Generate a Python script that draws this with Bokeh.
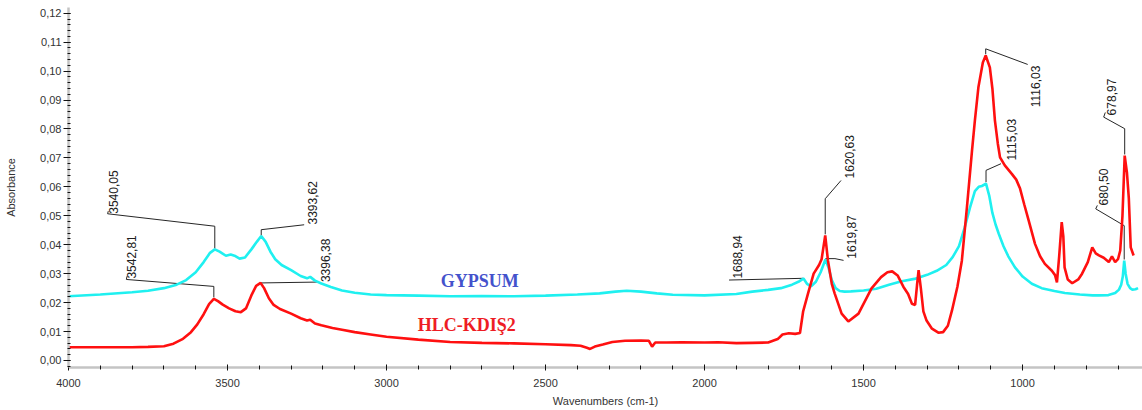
from math import pi
from bokeh.plotting import figure
from bokeh.models import Range1d, FixedTicker, CustomJSTickFormatter
from bokeh.core.properties import value
from bokeh.embed import file_html
from bokeh.resources import INLINE

# ---------------- data ----------------
gypsum_wn = [4000, 3900, 3800, 3750, 3700, 3660, 3630, 3600, 3575, 3555, 3540, 3525, 3505, 3490,
             3478, 3462, 3445, 3425, 3408, 3394, 3380, 3365, 3350, 3330, 3300, 3270, 3250, 3240,
             3225, 3205, 3175, 3140, 3100, 3050, 3000, 2900, 2800, 2700, 2600, 2500, 2400, 2330,
             2280, 2245, 2200, 2150, 2100, 2000, 1900, 1850, 1800, 1760, 1725, 1705, 1689, 1678,
             1665, 1650, 1635, 1620, 1610, 1600, 1588, 1575, 1560, 1540, 1500, 1460, 1420, 1380,
             1340, 1300, 1270, 1240, 1220, 1200, 1182, 1165, 1150, 1138, 1128, 1115, 1105, 1095,
             1085, 1075, 1060, 1045, 1024, 1000, 971, 940, 900, 867, 820, 780, 760, 730, 709, 697,
             690, 685, 680.5, 676, 670, 662, 655, 645, 637]
gypsum_abs = [0.0222, 0.0228, 0.0236, 0.0241, 0.0250, 0.0262, 0.0278, 0.0305, 0.0340, 0.0372,
              0.0384, 0.0376, 0.0362, 0.0366, 0.0362, 0.0352, 0.0356, 0.0384, 0.0410, 0.0430,
              0.0410, 0.0376, 0.0350, 0.0330, 0.0312, 0.0292, 0.0284, 0.0289, 0.0276, 0.0266,
              0.0254, 0.0242, 0.0234, 0.0228, 0.0226, 0.0224, 0.0222, 0.0223, 0.0222, 0.0224,
              0.0228, 0.0232, 0.0238, 0.0241, 0.0238, 0.0232, 0.0227, 0.0225, 0.0230, 0.0238,
              0.0244, 0.0250, 0.0262, 0.0272, 0.0283, 0.0265, 0.0256, 0.0272, 0.0305, 0.0349,
              0.0320, 0.0278, 0.0250, 0.0240, 0.0238, 0.0239, 0.0242, 0.0248, 0.0262, 0.0274,
              0.0282, 0.0296, 0.0310, 0.0330, 0.0357, 0.0395, 0.0460, 0.0530, 0.0585, 0.0600,
              0.0603, 0.0611, 0.0570, 0.0510, 0.0470, 0.0438, 0.0395, 0.0360, 0.0322, 0.0290,
              0.0265, 0.0250, 0.0240, 0.0233, 0.0228, 0.0225, 0.0225, 0.0226, 0.0233, 0.0245,
              0.0262, 0.0290, 0.0345, 0.0300, 0.0265, 0.0250, 0.0245, 0.0246, 0.0250]

hlc_wn = [4000, 3900, 3800, 3750, 3700, 3670, 3640, 3615, 3595, 3575, 3558, 3543, 3530, 3515,
          3495, 3475, 3458, 3442, 3425, 3410, 3396, 3385, 3370, 3355, 3335, 3300, 3270, 3250,
          3240, 3225, 3205, 3170, 3140, 3100, 3050, 3000, 2900, 2800, 2700, 2600, 2500, 2420,
          2390, 2370, 2360, 2345, 2320, 2290, 2250, 2200, 2175, 2165, 2155, 2120, 2072, 2000,
          1957, 1900, 1850, 1800, 1770, 1755, 1735, 1715, 1700, 1690, 1675, 1657, 1640, 1632,
          1620.6, 1612, 1600, 1591, 1569, 1548, 1516, 1475, 1445, 1425, 1410, 1393, 1375, 1360,
          1348, 1338, 1332, 1327, 1320, 1312, 1302, 1285, 1265, 1250, 1235, 1222, 1205, 1191,
          1175, 1159, 1150, 1139, 1125, 1116, 1103, 1095, 1087, 1078, 1071, 1056, 1034, 1020,
          1008, 995, 981, 961, 945, 930, 908, 898, 892, 885, 877, 872, 868, 858, 844, 825, 813,
          795, 781, 770, 760, 745, 729, 719, 709, 700, 693, 686, 679, 672, 666, 660, 651]
hlc_abs = [0.0046, 0.0046, 0.0046, 0.0047, 0.0049, 0.0058, 0.0075, 0.0098, 0.0125, 0.0160,
           0.0195, 0.0213, 0.0205, 0.0193, 0.0180, 0.0170, 0.0167, 0.0180, 0.0225, 0.0258,
           0.0268, 0.0250, 0.0215, 0.0192, 0.0178, 0.0162, 0.0146, 0.0138, 0.0141, 0.0128,
           0.0122, 0.0112, 0.0106, 0.0098, 0.0090, 0.0082, 0.0072, 0.0064, 0.0061, 0.0059,
           0.0056, 0.0053, 0.0051, 0.0044, 0.0040, 0.0048, 0.0055, 0.0064, 0.0068, 0.0069,
           0.0068, 0.0048, 0.0062, 0.0062, 0.0063, 0.0062, 0.0063, 0.0060, 0.0061, 0.0062,
           0.0074, 0.0090, 0.0094, 0.0092, 0.0095, 0.0170, 0.0230, 0.0300, 0.0330, 0.0350,
           0.0432, 0.0345, 0.0265, 0.0232, 0.0162, 0.0135, 0.0162, 0.0249, 0.0288, 0.0305,
           0.0308, 0.0294, 0.0255, 0.0230, 0.0196, 0.0192, 0.0260, 0.0312, 0.0250, 0.0170,
           0.0138, 0.0110, 0.0096, 0.0098, 0.0120, 0.0173, 0.0255, 0.0345, 0.0530, 0.0726,
           0.0830, 0.0944, 0.1030, 0.1054, 0.1013, 0.0940, 0.0829, 0.0750, 0.0702, 0.0674,
           0.0645, 0.0625, 0.0594, 0.0540, 0.0484, 0.0403, 0.0360, 0.0334, 0.0310, 0.0295,
           0.0270, 0.0360, 0.0478, 0.0430, 0.0322, 0.0280, 0.0267, 0.0280, 0.0300, 0.0340,
           0.0391, 0.0370, 0.0363, 0.0355, 0.0340, 0.0360, 0.0340, 0.0350, 0.0380, 0.0500,
           0.0708, 0.0650, 0.0560, 0.0391, 0.0363]

series_names = ["GYPSUM", "HLC-KDIŞ2"]
series_label_x = [2707, 2748]
series_label_y = [0.0273, 0.0121]

x_ticks = [4000, 3500, 3000, 2500, 2000, 1500, 1000]
x_minor_ticks = list(range(4000, 600, -100))
y_ticks = [0.00, 0.01, 0.02, 0.03, 0.04, 0.05, 0.06, 0.07, 0.08, 0.09, 0.10, 0.11, 0.12]
y_minor_ticks = [round(-0.002 + 0.002 * i, 3) for i in range(63)]

# peak annotations: leader polylines and rotated labels
peak_labels = ["3540,05", "3393,62", "3542,81", "3396,38", "1688,94", "1620,63",
               "1619,87", "1115,03", "680,50", "678,97"]
peak_label_x = [3857, 3232, 3801, 3191, 1898, 1545, 1537, 1034, 747, 719]
peak_label_y = [0.0507, 0.0470, 0.0283, 0.0271, 0.0283, 0.0629, 0.0352, 0.0691, 0.0536, 0.0847]
top_label = ["1116,03"]
top_label_x = [958]
top_label_y = [0.1019]

leader_xs = [[3540, 3540, 3877, 3875],
             [3394, 3394, 3259],
             [3543, 3543, 3818, 3816],
             [3396, 3217],
             [1689, 1923],
             [1620.6, 1620.6, 1571],
             [1620, 1590, 1563],
             [1116, 1116, 984],
             [1115, 1115, 1068],
             [680.5, 680.5, 770, 765],
             [679, 679, 745, 740]]
leader_ys = [[0.0387, 0.0464, 0.0507, 0.0516],
             [0.0432, 0.0452, 0.0469],
             [0.0218, 0.0256, 0.0280, 0.0291],
             [0.0268, 0.0271],
             [0.0284, 0.0278],
             [0.0436, 0.0559, 0.0622],
             [0.0352, 0.0352, 0.0346],
             [0.1058, 0.1077, 0.1023],
             [0.0616, 0.0657, 0.0680],
             [0.0349, 0.0466, 0.0524, 0.0536],
             [0.0712, 0.0801, 0.0841, 0.0857]]

# ---------------- figure ----------------
p = figure(width=1142, height=410, output_backend="svg", toolbar_location=None,
           x_range=Range1d(4000, 623), y_range=Range1d(-0.00242, 0.12198),
           min_border_left=68, min_border_right=0, min_border_top=7, min_border_bottom=43)
p.outline_line_color = None
p.background_fill_color = "white"
p.border_fill_color = "white"
p.xgrid.visible = False
p.ygrid.visible = False

font = "Liberation Sans"
for ax in (p.xaxis[0], p.yaxis[0]):
    ax.axis_line_color = "#c4c4c4"
    ax.axis_line_width = 2.5
    ax.major_tick_line_color = "#111111"
    ax.minor_tick_line_color = "#111111"
    ax.major_label_text_font = font
    ax.major_label_text_font_size = "11px"
    ax.major_label_text_color = "#333333"
    ax.axis_label_text_font = font
    ax.axis_label_text_font_size = "11px"
    ax.axis_label_text_font_style = "normal"
    ax.axis_label_text_color = "#333333"

p.xaxis.ticker = FixedTicker(ticks=x_ticks, minor_ticks=x_minor_ticks)
p.xaxis.axis_label = "Wavenumbers (cm-1)"
p.xaxis.major_tick_in = 3
p.xaxis.major_tick_out = 3
p.xaxis.minor_tick_in = 2
p.xaxis.minor_tick_out = 2
p.xaxis.major_label_standoff = 8
p.xaxis.axis_label_standoff = 5

p.yaxis.ticker = FixedTicker(ticks=y_ticks, minor_ticks=y_minor_ticks)
p.yaxis.formatter = CustomJSTickFormatter(code="return tick.toFixed(2).replace('.', ',');")
p.yaxis.axis_label = "Absorbance"
p.yaxis.major_tick_in = 2
p.yaxis.major_tick_out = 5
p.yaxis.minor_tick_in = 2
p.yaxis.minor_tick_out = 1
p.yaxis.major_label_standoff = 2
p.yaxis.axis_label_standoff = 20

# leaders
p.multi_line(xs=leader_xs, ys=leader_ys, line_color="#262626", line_width=1)

# spectra
p.line(gypsum_wn, gypsum_abs, line_color="#1ff0f0", line_width=2.6)
p.line(hlc_wn, hlc_abs, line_color="#ff1010", line_width=2.6)

# peak labels
p.text(x=peak_label_x, y=peak_label_y, text=peak_labels, angle=pi / 2,
       text_font=value(font), text_font_size="12px", text_color="#202020",
       text_align="left", text_baseline="middle")
p.text(x=top_label_x, y=top_label_y, text=top_label, angle=pi / 2,
       text_font=value(font), text_font_size="12px", text_color="#202020",
       text_align="right", text_baseline="middle")

# series names
p.text(x=series_label_x, y=series_label_y, text=series_names,
       text_color=["#4452cc", "#ee1c24"],
       text_font=value("Liberation Serif"), text_font_size="18px", text_font_style="bold",
       text_align="center", text_baseline="middle")

open("out.html", "w").write(file_html(p, INLINE))
